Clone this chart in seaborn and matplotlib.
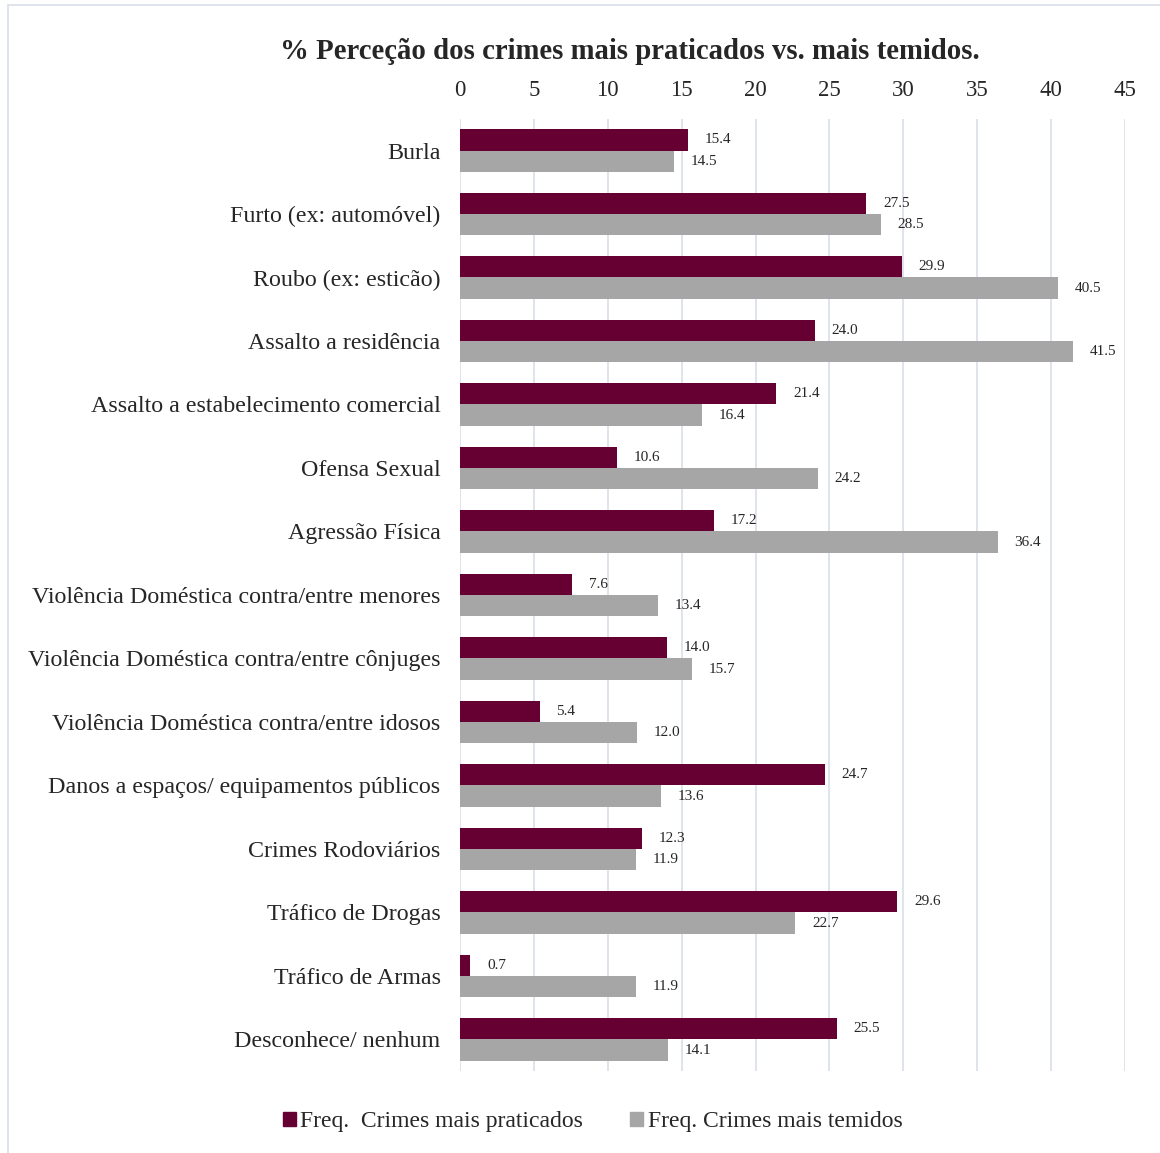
import pandas as pd
import matplotlib.pyplot as plt
import matplotlib.patches as mpatches
import seaborn as sns

# ── Data ──────────────────────────────────────────
crimes = [
    "Burla",
    "Furto (ex: automóvel)",
    "Roubo (ex: esticão)",
    "Assalto a residência",
    "Assalto a estabelecimento comercial",
    "Ofensa Sexual",
    "Agressão Física",
    "Violência Doméstica contra/entre menores",
    "Violência Doméstica contra/entre cônjuges",
    "Violência Doméstica contra/entre idosos",
    "Danos a espaços/ equipamentos públicos",
    "Crimes Rodoviários",
    "Tráfico de Drogas",
    "Tráfico de Armas",
    "Desconhece/ nenhum",
]
praticados = [15.4, 27.5, 29.9, 24.0, 21.4, 10.6, 17.2, 7.6, 14.0, 5.4, 24.7, 12.3, 29.6, 0.7, 25.5]
temidos = [14.5, 28.5, 40.5, 41.5, 16.4, 24.2, 36.4, 13.4, 15.7, 12.0, 13.6, 11.9, 22.7, 11.9, 14.1]
series_names = ["Freq.  Crimes mais praticados", "Freq. Crimes mais temidos"]
x_ticks = [0, 5, 10, 15, 20, 25, 30, 35, 40, 45]

df = pd.DataFrame({
    "crime": crimes * 2,
    "valor": praticados + temidos,
    "serie": [series_names[0]] * len(crimes) + [series_names[1]] * len(crimes),
})

# ── Style ─────────────────────────────────────────
sns.set_style("white")
plt.rcParams['font.family'] = ['Liberation Serif', 'DejaVu Serif']

cor_prat = "#660033"
cor_tem = "#A6A6A6"

fig = plt.figure(figsize=(11.6, 11.53), dpi=100)
ax = fig.add_axes([0.3966, 0.071, 0.5732, 0.826])

sns.barplot(data=df, y="crime", x="valor", hue="serie", order=crimes,
            hue_order=series_names, palette=[cor_prat, cor_tem],
            width=0.67, orient="h", ax=ax, legend=False, saturation=1,
            linewidth=0)

# value labels
for cont in ax.containers:
    ax.bar_label(cont, fmt="%.1f", padding=12, fontsize=11)

ax.set_xlim(0, 45)
ax.set_ylim(len(crimes) - 0.5, -0.5)
ax.set_xticks(x_ticks)
ax.xaxis.tick_top()
ax.tick_params(axis="x", labelsize=16.5, length=0, pad=13)
ax.tick_params(axis="y", labelsize=17.3, length=0, pad=14)
ax.set_xlabel("")
ax.set_ylabel("")
ax.grid(axis="x", color="#D9DEE8", linewidth=1.2)
ax.set_axisbelow(True)
for s in ax.spines.values():
    s.set_visible(False)

fig.text(0.543, 0.955, "% Perceção dos crimes mais praticados vs. mais temidos.",
         ha="center", va="center", fontsize=20.7, fontweight="bold")

# ── Legend ────────────────────────────────────────
handles = [mpatches.Patch(color=cor_prat, label=series_names[0]),
           mpatches.Patch(color=cor_tem, label=series_names[1])]
fig.legend(handles=handles, loc="center", bbox_to_anchor=(0.511, 0.027), ncol=2,
           frameon=False, fontsize=17, handlelength=0.55, handleheight=0.55,
           handletextpad=0.2, columnspacing=2.0)

# outer border
fig.add_artist(mpatches.Rectangle((8 / 1160, -0.1), 1.2, 1.1 - 5 / 1153,
                                  transform=fig.transFigure, fill=False,
                                  edgecolor="#D9DEE8", linewidth=1.2))

fig.savefig("out.png", dpi=100)
